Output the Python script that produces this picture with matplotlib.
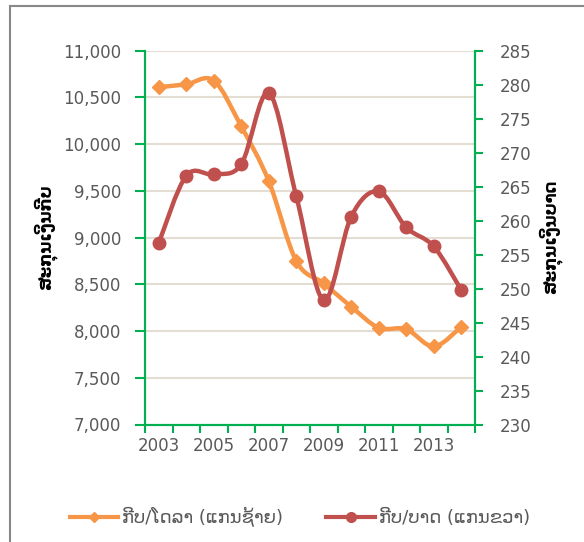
import numpy as np
import matplotlib.pyplot as plt
from matplotlib.path import Path
from matplotlib.patches import PathPatch, Rectangle
from matplotlib.lines import Line2D
from matplotlib.ticker import FuncFormatter, MultipleLocator

years = [2003, 2004, 2005, 2006, 2007, 2008, 2009, 2010, 2011, 2012, 2013, 2014]
kip_usd = [10610, 10640, 10680, 10190, 9605, 8750, 8510, 8260, 8035, 8020, 7835, 8045]
kip_thb = [256.7, 266.6, 266.8, 268.3, 278.8, 263.6, 248.3, 260.6, 264.3, 259.0, 256.2, 249.8]
xlabels = ['2003', '', '2005', '', '2007', '', '2009', '', '2011', '', '2013', '']

label_usd = 'ກີບ/ໂດລາ (ແກນຊ້າຍ)'
label_thb = 'ກີບ/ບາດ (ແກນຂວາ)'
ylab_left = 'ສະກຸນເງິນກີບ'
ylab_right = 'ສະກຸນເງິນບາດ'

orange = '#F79646'
red = '#C0504D'
green = '#00B050'
grey = '#595959'

plt.rcParams['font.family'] = ['DejaVu Sans']


def smooth_path(x, y):
    # excel-style smoothed line: bezier through the points
    x = np.asarray(x, float)
    y = np.asarray(y, float)
    n = len(x)
    verts = [(x[0], y[0])]
    codes = [Path.MOVETO]
    for i in range(n - 1):
        x0, y0 = (x[i - 1], y[i - 1]) if i > 0 else (x[i], y[i])
        x3, y3 = (x[i + 2], y[i + 2]) if i + 2 < n else (x[i + 1], y[i + 1])
        c1 = (x[i] + (x[i + 1] - x0) / 6, y[i] + (y[i + 1] - y0) / 6)
        c2 = (x[i + 1] - (x3 - x[i]) / 6, y[i + 1] - (y3 - y[i]) / 6)
        verts += [c1, c2, (x[i + 1], y[i + 1])]
        codes += [Path.CURVE4] * 3
    return Path(verts, codes)


fig = plt.figure(figsize=(5.84, 5.42), dpi=100)
ax = fig.add_axes([145 / 584, 1 - 424.5 / 542, 330 / 584, 373.8 / 542])
ax2 = ax.twinx()

pos = np.arange(len(years))

ax.add_patch(PathPatch(smooth_path(pos, kip_usd), fill=False, ec=orange, lw=3.2,
                       capstyle='round', joinstyle='round', zorder=3))
ax.plot(pos, kip_usd, ls='none', marker='D', ms=7.5, color=orange, zorder=4)

ax2.add_patch(PathPatch(smooth_path(pos, kip_thb), fill=False, ec=red, lw=3.2,
                        capstyle='round', joinstyle='round', zorder=3))
ax2.plot(pos, kip_thb, ls='none', marker='o', ms=9, color=red, zorder=4)

ax.set_xlim(-0.5, len(years) - 0.5)
ax.set_ylim(7000, 11000)
ax2.set_ylim(230, 285)

ax.yaxis.set_major_locator(MultipleLocator(500))
ax.yaxis.set_major_formatter(FuncFormatter(lambda v, p: f'{int(v):,}'))
ax2.yaxis.set_major_locator(MultipleLocator(5))

ax.set_xticks(pos)
ax.set_xticklabels(xlabels)
ax.set_xticks(np.arange(-0.5, len(years)), minor=True)
ax.tick_params(axis='x', which='major', length=0, pad=9, labelsize=12, labelcolor=grey)
ax.tick_params(axis='x', which='minor', length=6, width=1.5, color=green, direction='out')
ax.tick_params(axis='y', length=7, width=1.5, color=green, labelsize=12, labelcolor=grey, pad=10)
ax2.tick_params(axis='y', length=6, width=1.5, color=green, labelsize=12, labelcolor=grey, pad=12)

ax.grid(axis='y', color='#E3DED1', lw=1.5)
ax.set_axisbelow(True)

for a in (ax, ax2):
    a.spines['top'].set_visible(False)
    for s in ('left', 'right', 'bottom'):
        a.spines[s].set_color(green)
        a.spines[s].set_linewidth(1.5)

fig.text(45 / 584, 1 - 237 / 542, ylab_left, rotation=90, ha='center', va='center',
         fontsize=12, fontweight='bold', color='black')
fig.text(550 / 584, 1 - 237 / 542, ylab_right, rotation=90, ha='center', va='center',
         fontsize=12, fontweight='bold', color='black')

handles = [Line2D([], [], color=orange, lw=3, marker='D', ms=5),
           Line2D([], [], color=red, lw=3, marker='o', ms=7)]
leg = fig.legend(handles, [label_usd, label_thb], loc='center', ncol=2,
                 bbox_to_anchor=(0.513, 1 - 517 / 542), frameon=False,
                 fontsize=13, handlelength=2.7, handletextpad=0.2, columnspacing=2.4)
for t in leg.get_texts():
    t.set_color(grey)

fig.patches.append(Rectangle((10 / 584, -0.1), 1.2, 1.1 - 6 / 542, transform=fig.transFigure,
                             fill=False, ec='#888888', lw=1.5))

fig.savefig('out.png', dpi=100)
